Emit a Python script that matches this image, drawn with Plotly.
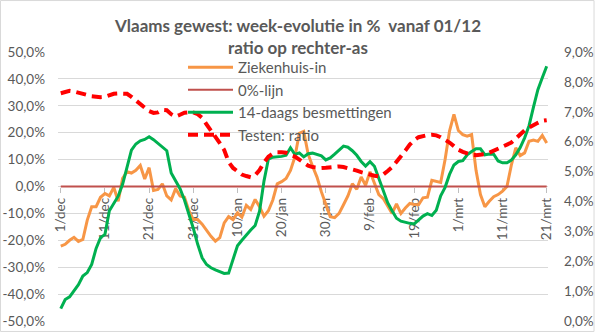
import plotly.graph_objects as go
import pandas as pd

# ---- data (daily, 1 Dec 2020 .. 21 Mar 2021) ----
start_date = "2020-12-01"
n_days = 111

ziekenhuis_in = [
    -22.2, -21.5, -20.0, -18.9, -20.4, -19.7, -12.5, -7.5, -7.5, -4.0,
    -2.6, -3.5, -0.3, -5.5, 3.0, 5.5, 5.0, 6.0, 7.8, 2.8,
    7.0, -1.5, -1.1, 1.0, -3.5, -5.0, -0.8, -3.5, -4.0, -9.0,
    -12.3, -12.3, -14.0, -16.5, -18.5, -20.3, -19.0, -13.5, -11.2, -12.3,
    -9.8, -11.4, -7.0, -8.5, -4.8, -7.5, -11.0, -9.0, -5.0, 1.0,
    1.8, 3.0, 6.0, 11.0, 19.8, 20.5, 12.0, 7.5, 3.5, -2.0,
    -7.0, -11.2, -11.6, -10.0, -6.8, -3.5, 1.0, -1.0, 3.5, 0.5,
    5.5, 1.0, -3.0, -4.5, -7.0, -10.0, -6.5, -10.0, -8.0, -6.3,
    -6.7, -6.8, -4.2, -4.0, 2.3, 2.0, 1.5, 10.0, 20.6, 26.8,
    20.8, 19.3, 18.7, 19.3, 6.0, -3.0, -7.5, -5.5, -3.8, -3.0,
    -1.7, 0.0, 8.0, 14.4, 11.5, 12.5, 16.8, 17.3, 16.8, 19.0,
    16.2,
]

nul_lijn = [0.0] * n_days

besmettingen_14d = [
    -45.4, -42.0, -41.0, -38.5, -36.5, -33.3, -32.0, -29.0, -23.0, -19.0,
    -17.8, -9.0, -6.3, -3.6, 0.8, 7.0, 13.5, 15.8, 17.0, 17.5,
    18.5, 17.4, 16.0, 14.8, 13.3, 5.0, 2.3, -0.8, -5.0, -10.0,
    -15.5, -21.5, -26.5, -29.0, -30.2, -31.0, -31.8, -32.3, -32.2, -27.0,
    -22.0, -20.0, -18.0, -16.2, -14.5, -9.2, 2.0, 10.2, 10.9, 11.0,
    11.2, 11.6, 14.4, 11.9, 12.5, 11.0, 12.2, 12.4, 12.0, 11.4,
    9.9, 10.6, 12.0, 13.5, 15.0, 14.6, 13.3, 11.6, 9.3, 7.6,
    9.2, 7.5, 3.0, -1.5, -6.0, -9.0, -11.8, -12.9, -13.4, -13.7,
    -13.9, -12.5, -11.0, -10.1, -10.8, -8.8, -3.5, -0.3, 4.5, 8.0,
    9.3, 9.6, 11.8, 13.0, 14.0, 14.0, 11.8, 12.1, 12.0, 9.5,
    8.8, 8.8, 9.8, 11.8, 14.5, 18.1, 22.6, 29.5, 36.0, 40.4,
    44.7,
]

testen_ratio = [
    7.62, 7.66, 7.70, 7.68, 7.63, 7.60, 7.56, 7.52, 7.50, 7.49,
    7.50, 7.55, 7.60, 7.61, 7.62, 7.60, 7.50, 7.38, 7.25, 7.12,
    7.02, 6.96, 6.98, 7.06, 7.05, 6.92, 6.84, 6.90, 6.97, 6.98,
    6.98, 6.92, 6.80, 6.58, 6.38, 6.18, 5.95, 5.72, 5.32, 5.12,
    5.00, 4.90, 4.85, 4.81, 4.88, 5.05, 5.30, 5.50, 5.60, 5.65,
    5.65, 5.63, 5.55, 5.50, 5.40, 5.28, 5.20, 5.15, 5.12, 5.12,
    5.13, 5.15, 5.17, 5.17, 5.15, 5.12, 5.07, 5.03, 4.98, 4.93,
    4.89, 4.86, 4.84, 4.90, 5.02, 5.15, 5.33, 5.50, 5.70, 5.90,
    6.05, 6.15, 6.20, 6.22, 6.23, 6.21, 6.15, 6.07, 5.97, 5.85,
    5.73, 5.66, 5.60, 5.56, 5.55, 5.56, 5.58, 5.63, 5.70, 5.76,
    5.82, 5.90, 5.97, 6.10, 6.25, 6.38, 6.47, 6.56, 6.63, 6.70,
    6.72,
]

x_tick_labels = ["1/dec", "11/dec", "21/dec", "31/dec", "10/jan", "20/jan",
                 "30/jan", "9/feb", "19/feb", "1/mrt", "11/mrt", "21/mrt"]
left_tick_vals = [-50, -40, -30, -20, -10, 0, 10, 20, 30, 40, 50]
left_tick_text = ["-50,0%", "-40,0%", "-30,0%", "-20,0%", "-10,0%", "0,0%",
                  "10,0%", "20,0%", "30,0%", "40,0%", "50,0%"]
right_tick_vals = [0, 1, 2, 3, 4, 5, 6, 7, 8, 9]
right_tick_text = ["0,0%", "1,0%", "2,0%", "3,0%", "4,0%", "5,0%",
                   "6,0%", "7,0%", "8,0%", "9,0%"]

dates = pd.date_range(start_date, periods=n_days, freq="D")
tick_dates = dates[::10]

GRAY = "#595959"
FONT = "Lato"

fig = go.Figure()
fig.add_trace(go.Scatter(x=dates, y=ziekenhuis_in, name="Ziekenhuis-in",
                         mode="lines", line=dict(color="#F79646", width=3)))
fig.add_trace(go.Scatter(x=dates, y=nul_lijn, name="0%-lijn",
                         mode="lines", line=dict(color="#C0504D", width=2)))
fig.add_trace(go.Scatter(x=dates, y=besmettingen_14d, name="14-daags besmettingen",
                         mode="lines", line=dict(color="#00B050", width=3)))
fig.add_trace(go.Scatter(x=dates, y=testen_ratio, name="Testen: ratio",
                         mode="lines", yaxis="y2",
                         line=dict(color="#FF0000", width=4, dash="10px,6px")))

W, H = 595, 332
L, R, T, B = 58, 47, 52, 11
pw, ph = W - L - R, H - T - B

fig.update_layout(
    width=W, height=H,
    margin=dict(l=L, r=R, t=T, b=B, pad=0, autoexpand=False),
    paper_bgcolor="white", plot_bgcolor="white",
    font=dict(family=FONT, size=13, color=GRAY),
    showlegend=True,
    legend=dict(x=(183 - L) / pw, y=(H - B - 51) / ph, xanchor="left", yanchor="top",
                bgcolor="rgba(0,0,0,0)", font=dict(size=15, color=GRAY),
                itemwidth=45, traceorder="normal"),
    xaxis=dict(
        range=[dates[0] - pd.Timedelta(hours=15), dates[-1] + pd.Timedelta(hours=7)],
        tickvals=list(tick_dates), ticktext=x_tick_labels,
        tickangle=-90, anchor="free", position=0.5, automargin=False,
        showgrid=False, zeroline=False, showline=False,
        ticks="outside", ticklen=5, tickcolor="#BFBFBF",
        tickfont=dict(size=13.5, color=GRAY), layer="below traces",
    ),
    yaxis=dict(
        range=[-50, 50], tickvals=left_tick_vals, ticktext=left_tick_text,
        showgrid=True, gridcolor="#D9D9D9", gridwidth=1, zeroline=False,
        showline=False, ticks="", ticklabelstandoff=12, automargin=False,
        tickfont=dict(size=13.5, color=GRAY),
    ),
    yaxis2=dict(
        range=[0, 9], tickvals=right_tick_vals, ticktext=right_tick_text,
        overlaying="y", side="right", showgrid=False, zeroline=False,
        showline=False, ticks="", ticklabelstandoff=15, automargin=False,
        tickfont=dict(size=13.5, color=GRAY),
    ),
    annotations=[
        dict(text="<b>Vlaams gewest: week-evolutie in %  vanaf 01/12</b>",
             xref="paper", yref="paper", x=(297 - L) / pw, y=(H - B - 25) / ph,
             xanchor="center", yanchor="middle", showarrow=False,
             font=dict(size=17, color=GRAY, family=FONT)),
        dict(text="<b>ratio op rechter-as</b>",
             xref="paper", yref="paper", x=(298 - L) / pw, y=(H - B - 47) / ph,
             xanchor="center", yanchor="middle", showarrow=False,
             font=dict(size=17, color=GRAY, family=FONT)),
    ],
    shapes=[
        dict(type="rect", xref="paper", yref="paper",
             x0=-L / pw + 0.001, x1=1 + R / pw - 0.002,
             y0=-B / ph + 0.002, y1=1 + T / ph - 0.002,
             line=dict(color="#D9D9D9", width=1), fillcolor="rgba(0,0,0,0)",
             layer="below"),
    ],
)

fig.write_html("out.html")
